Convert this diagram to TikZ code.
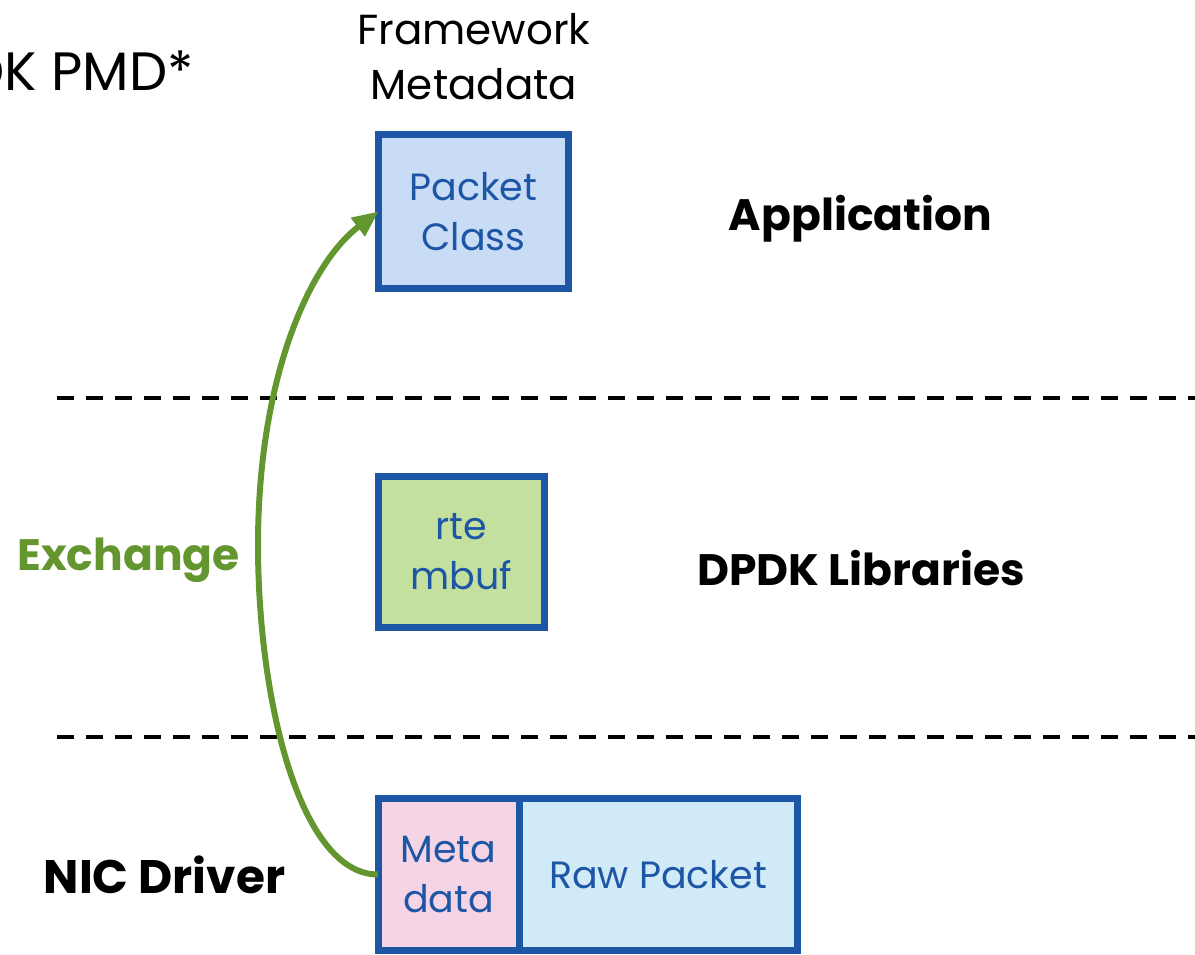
\documentclass[tikz,border=0pt]{standalone}
\usepackage{fontspec}
\setmainfont{Poppins}
\usetikzlibrary{arrows.meta}

\definecolor{boxblue}{HTML}{1E56A6}
\definecolor{pktfill}{HTML}{C8DCF5}
\definecolor{mbuffill}{HTML}{C3E09E}
\definecolor{metafill}{HTML}{F5D4E6}
\definecolor{rawfill}{HTML}{D1EAF7}
\definecolor{xgreen}{HTML}{64962F}

\tikzset{
  box/.style={draw=boxblue, line width=7pt, text=boxblue, inner sep=0pt, outer sep=0pt,
    align=center, font=\fontsize{38}{50}\selectfont},
  layer/.style={font=\bfseries\fontsize{44}{50}\selectfont, anchor=base},
  sep/.style={line width=4pt, dash pattern=on 17pt off 12pt},
  xchg/.style={draw=xgreen, line width=6pt, -{Triangle[length=26pt,width=22pt]}}
}

\begin{document}
\begin{tikzpicture}[x=1pt,y=-1pt]
    \useasboundingbox (0,0) rectangle (1195,954);
    \clip (0,0) rectangle (1195,954);

    % layer separators
    \draw[sep] (57,398) -- (1195,398);
    \draw[sep] (57,737) -- (1195,737);

    % headings
    \node[anchor=base east, font=\fontsize{54}{60}\selectfont] (pmd) at (197,90) {DPDK PMD*};
    \node[font=\fontsize{42}{55}\selectfont, align=center] (fwmeta) at (474,57) {Framework\\Metadata};

    % boxes
    \node[box, fill=pktfill, minimum width=190pt, minimum height=154pt] (pkt) at (473.5,211.5) {Packet\\Class};
    \node[box, fill=mbuffill, minimum width=166pt, minimum height=151pt] (mbuf) at (461.5,552) {rte\\mbuf};
    \node[box, fill=metafill, minimum width=141pt, minimum height=152pt] (meta) at (448.5,874.5) {Meta\\data};
    \node[box, fill=rawfill, minimum width=278pt, minimum height=152pt] (raw) at (658,874.5) {Raw Packet};

    % layer names
    \node[layer] (app) at (860.5,230) {Application};
    \node[layer] (libs) at (861,585) {DPDK Libraries};
    \node[layer, font=\bfseries\fontsize{47}{50}\selectfont] (nic) at (164.5,893) {NIC Driver};
    \node[layer, text=xgreen] (xlabel) at (128.5,570) {Exchange};

    % exchange arrow
    \coordinate (bend) at (258,545);
    \draw[xchg] (meta.west) .. controls +(-78,0) and +(0,155) .. (bend)
                .. controls +(0,-165) and +(-70,53) .. (pkt.west);
\end{tikzpicture}
\end{document}
